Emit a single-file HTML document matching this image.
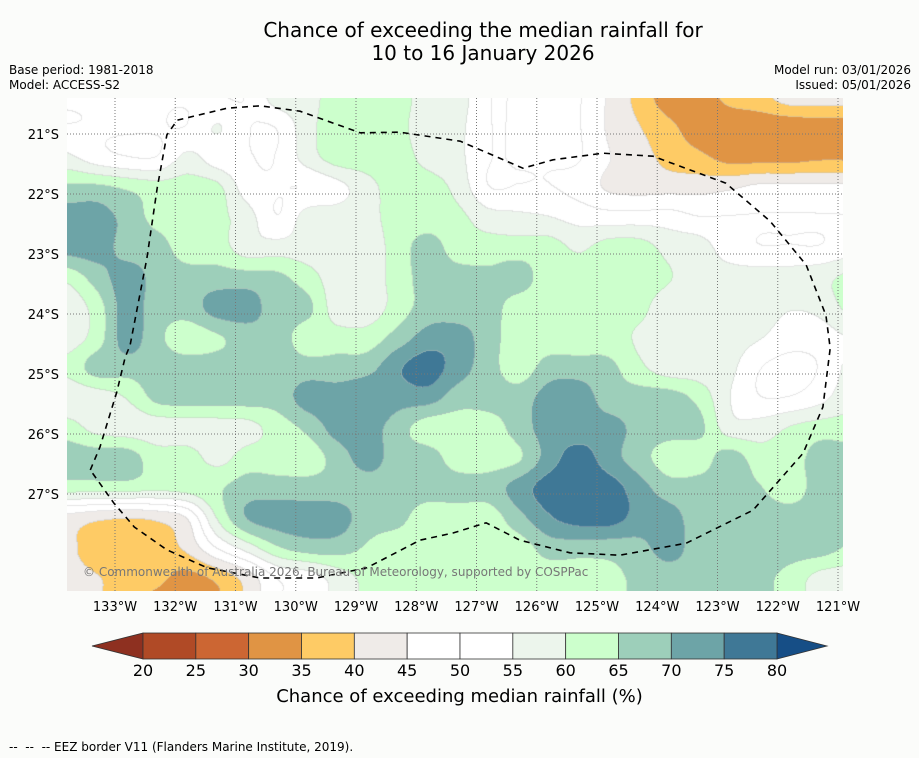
<!DOCTYPE html>
<html><head><meta charset="utf-8">
<style>
html,body{margin:0;padding:0;background:#fbfcfa;}
body{width:919px;height:758px;position:relative;overflow:hidden;font-family:"DejaVu Sans","Liberation Sans",sans-serif;}
.t{position:absolute;white-space:nowrap;color:#000;}
</style></head><body>
<div class="t" style="left:0;width:966px;text-align:center;top:19px;font-size:20px;line-height:23px;">Chance of exceeding the median rainfall for<br>10 to 16 January 2026</div>
<div class="t" style="left:9px;top:63px;font-size:12px;line-height:15px;">Base period: 1981-2018<br>Model: ACCESS-S2</div>
<div class="t" style="right:8px;top:63px;font-size:12px;line-height:15px;text-align:right;">Model run: 03/01/2026<br>Issued: 05/01/2026</div>
<canvas id="map" width="776" height="493" style="position:absolute;left:67px;top:98px;"></canvas>
<svg id="ov" width="919" height="758" style="position:absolute;left:0;top:0;"></svg>
<div class="t" style="left:83px;top:565px;font-size:12px;color:#777;">© Commonwealth of Australia 2026, Bureau of Meteorology, supported by COSPPac</div>
<div class="t" style="left:0;width:919px;text-align:center;top:686px;font-size:18px;">Chance of exceeding median rainfall (%)</div>
<div class="t" style="left:9px;top:740px;font-size:12px;">--&nbsp; --&nbsp; -- EEZ border V11 (Flanders Marine Institute, 2019).</div>
<script>
const gridLonStartW = 133.8;
const gridLatStartS = 20.4;
const gridStep = 0.5;
const levels = [20,25,30,35,40,45,50,55,60,65,70,75,80];
const bandColors = ["#8e3020","#b04a26","#cc6633","#e09444","#fecb65","#efebe8","#ffffff","#ffffff","#ecf5ec","#ccffcc","#9dcfba","#6da4a7","#3f7896","#164e86"];
const latTicks = [21,22,23,24,25,26,27];
const lonTicks = [133,132,131,130,129,128,127,126,125,124,123,122,121];
const cbarTicks = [20,25,30,35,40,45,50,55,60,65,70,75,80];
const values = [
[50,50,50,50,50,50,50,57,58,62,62,62,57,57,50,50,50,50,44,38,32,32,36,38,42,42,42],
[50,50,50,50,50,55,50,50,58,62,62,61,57,56,50,50,50,50,44,40,36,32,31,31,31,32,32],
[56,52,50,50,56,52,50,50,57,62,62,62,58,56,50,50,50,50,45,42,38,36,33,33,33,34,34],
[66,66,64,62,62,61,52,50,50,53,58,62,62,58,50,50,50,48,44,43,43,43,44,46,46,46,46],
[72,72,68,63,62,61,57,50,57,57,58,62,62,61,57,56,55,53,52,52,52,50,50,50,50,50,50],
[72,72,68,67,62,62,57,57,57,57,57,62,67,62,62,62,62,59,62,62,58,57,52,50,50,50,52],
[61,67,72,68,67,67,67,66,62,57,57,62,67,67,66,67,62,62,62,62,60,57,57,57,57,58,61],
[56,62,72,67,67,72,72,67,66,57,57,62,67,67,67,62,62,62,62,61,57,57,57,57,55,56,61],
[57,62,72,66,62,64,67,67,62,62,62,67,72,72,67,62,62,62,62,59,57,57,57,55,52,52,55],
[61,67,67,67,67,67,67,67,67,67,68,74,77,72,67,62,67,67,66,61,57,57,56,50,48,50,56],
[56,57,60,66,67,67,67,67,72,72,74,72,72,67,67,67,72,73,67,67,67,63,55,50,50,53,58],
[62,58,57,57,57,57,58,62,66,72,72,67,62,62,62,67,72,72,72,68,67,66,57,57,60,62,62],
[67,67,67,62,62,58,62,62,62,67,72,67,67,62,62,64,72,77,72,67,62,62,67,62,62,67,67],
[62,62,62,61,62,64,67,67,67,67,67,67,67,67,67,72,77,78,77,72,67,67,67,65,62,67,67],
[43,41,40,41,45,60,70,72,72,72,67,66,62,62,62,68,74,77,77,73,72,67,67,67,67,67,67],
[41,37,37,37,41,50,57,64,67,67,64,62,62,62,62,62,67,67,67,68,72,67,67,67,67,67,64],
[42,40,38,36,33,36,42,50,52,57,61,62,62,62,61,62,62,62,63,66,67,67,67,66,63,58,57],
[42,40,36,32,31,34,42,50,52,57,61,62,62,62,61,62,62,62,63,66,67,67,67,66,63,58,57]
];
const eezLonW = [133.41,133.25,132.97,132.83,132.75,132.47,132.30,132.14,131.97,131.14,130.59,129.93,128.93,128.27,127.27,126.23,125.73,124.90,124.07,122.86,122.13,121.53,121.20,121.13,121.25,121.58,122.41,123.52,124.62,125.45,126.28,126.84,127.39,127.94,128.82,129.65,130.59,131.47,132.14,132.68,133.02,133.41];
const eezLatS = [26.6,26.22,25.3,24.72,24.52,23.07,21.9,21.02,20.77,20.57,20.53,20.62,20.98,20.97,21.12,21.57,21.43,21.32,21.37,21.82,22.45,23.18,24.02,24.57,25.55,26.32,27.27,27.82,28.02,27.98,27.77,27.48,27.65,27.77,28.23,28.4,28.4,28.23,27.93,27.55,27.15,26.6];

function lonToX(lonW){return 115 + (133 - lonW)*60.25;}
function latToY(latS){return 134 + (latS - 21)*60;}
function bandOf(v){let b=0;for(let i=0;i<levels.length;i++){if(v>=levels[i])b=i+1;}return b;}
function hex(c){return [parseInt(c.substr(1,2),16),parseInt(c.substr(3,2),16),parseInt(c.substr(5,2),16)];}
function cr(p0,p1,p2,p3,t){return p1+0.5*t*(p2-p0+t*(2*p0-5*p1+4*p2-p3+t*(3*(p1-p2)+p3-p0)));}

(function drawMap(){
  const cv=document.getElementById('map');const ctx=cv.getContext('2d');
  const W=cv.width,H=cv.height;const img=ctx.createImageData(W,H);
  const rows=values.length,cols=values[0].length;
  const g=(i,j)=>values[Math.max(0,Math.min(rows-1,i))][Math.max(0,Math.min(cols-1,j))];
  const bands=new Int8Array(W*H);
  for(let py=0;py<H;py++){
    const latS=21+((py+98.5)-134)/60;
    let gy=(latS-gridLatStartS)/gridStep;gy=Math.max(0,Math.min(rows-1.0001,gy));
    const i0=Math.floor(gy),fy=gy-i0;
    for(let px=0;px<W;px++){
      const lonW=133-((px+67.5)-115)/60.25;
      let gx=(gridLonStartW-lonW)/gridStep;gx=Math.max(0,Math.min(cols-1.0001,gx));
      const j0=Math.floor(gx),fx=gx-j0;
      const r=[];
      for(let k=-1;k<=2;k++){r.push(cr(g(i0+k,j0-1),g(i0+k,j0),g(i0+k,j0+1),g(i0+k,j0+2),fx));}
      const v=cr(r[0],r[1],r[2],r[3],fy)+0.3;
      bands[py*W+px]=bandOf(v);
    }
  }
  const cols3=bandColors.map(hex);
  for(let py=0;py<H;py++)for(let px=0;px<W;px++){
    const b=bands[py*W+px];let c=cols3[b].slice();
    const edge=(px+1<W&&bands[py*W+px+1]!==b)||(py+1<H&&bands[(py+1)*W+px]!==b);
    if(edge){c=[Math.round(c[0]*0.6+190*0.4),Math.round(c[1]*0.6+190*0.4),Math.round(c[2]*0.6+190*0.4)];}
    const k=(py*W+px)*4;img.data[k]=c[0];img.data[k+1]=c[1];img.data[k+2]=c[2];img.data[k+3]=255;
  }
  ctx.putImageData(img,0,0);
})();

(function drawOverlay(){
  const NS='http://www.w3.org/2000/svg';const svg=document.getElementById('ov');
  function mk(tag,attrs,name){const e=document.createElementNS(NS,tag);for(const k in attrs)e.setAttribute(k,attrs[k]);
    
    
    svg.appendChild(e);return e;}
  latTicks.forEach(lat=>{const y=latToY(lat);
    mk('line',{x1:67,x2:843,y1:y,y2:y,stroke:'#777','stroke-width':1,'stroke-dasharray':'1,2'},'lat-gridline');
    const t=mk('text',{x:59,y:y+5,'text-anchor':'end','font-size':13,'font-family':'DejaVu Sans, Liberation Sans, sans-serif'},'lat-tick-label');t.textContent=lat+'°S';});
  lonTicks.forEach(lon=>{const x=lonToX(lon);
    mk('line',{x1:x,x2:x,y1:98,y2:591,stroke:'#777','stroke-width':1,'stroke-dasharray':'1,2'},'lon-gridline');
    const t=mk('text',{x:x,y:611,'text-anchor':'middle','font-size':13,'font-family':'DejaVu Sans, Liberation Sans, sans-serif'},'lon-tick-label');t.textContent=lon+'°W';});
  const pts=eezLonW.map((l,i)=>lonToX(l).toFixed(1)+','+latToY(eezLatS[i]).toFixed(1)).join(' ');
  mk('polyline',{points:pts,fill:'none',stroke:'#000','stroke-width':1.6,'stroke-dasharray':'6,5'},'eez-border');
  const x0=143,x1=777,yt=633,yb=659,segW=(x1-x0)/(levels.length-1);
  mk('polygon',{points:`92,646 ${x0},${yt} ${x0},${yb}`,fill:bandColors[0],stroke:'#333','stroke-width':0.8},'colorbar-low-extension');
  mk('polygon',{points:`827,646 ${x1},${yt} ${x1},${yb}`,fill:bandColors[bandColors.length-1],stroke:'#333','stroke-width':0.8},'colorbar-high-extension');
  for(let i=0;i<levels.length-1;i++){
    mk('rect',{x:x0+i*segW,y:yt,width:segW,height:yb-yt,fill:bandColors[i+1],stroke:'#333','stroke-width':0.8},'colorbar-segment');
  }
  cbarTicks.forEach(v=>{const t=mk('text',{x:x0+(v-levels[0])/5*segW,y:676,'text-anchor':'middle','font-size':16,'font-family':'DejaVu Sans, Liberation Sans, sans-serif'},'colorbar-tick-label');t.textContent=v;});
})();
</script>
</body></html>
